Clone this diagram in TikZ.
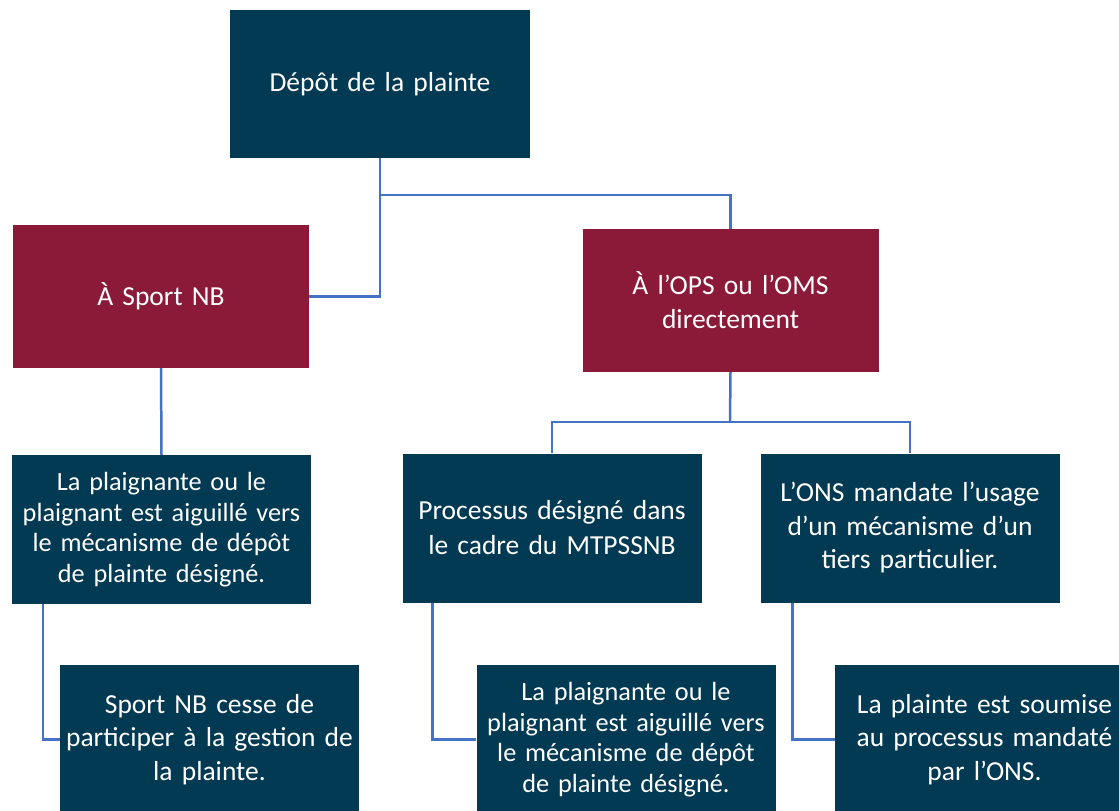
\documentclass[tikz,border=0pt]{standalone}
\usepackage{fontspec}
\setmainfont{Carlito}
\usetikzlibrary{calc}

\definecolor{navy}{HTML}{023A53}
\definecolor{wine}{HTML}{8B1A38}
\definecolor{linkblue}{HTML}{4472C4}

\begin{document}
\begin{tikzpicture}[x=1pt,y=-1pt,
  box/.style={fill=navy, text=white, minimum width=299pt, minimum height=149pt,
    text width=296pt, align=center, inner sep=0pt,
    font=\fontsize{27.5}{33.5}\selectfont},
  longbox/.style={box, font=\fontsize{26.3}{30.5}\selectfont},
  redbox/.style={box, fill=wine, minimum width=294pt, minimum height=143pt,
    font=\fontsize{27.5}{34}\selectfont},
  link/.style={draw=linkblue, line width=2.5pt}]

\useasboundingbox (0,0) rectangle (1119,811);

% top
\node[box, minimum width=300pt, minimum height=148pt] (depot) at (380,84) {Dépôt de la plainte};

% second row
\node[redbox] (sport) at (161,296.5) {À Sport NB};
\node[redbox] (ops) at (730.5,300.5) {À l’OPS ou l’OMS\\ directement};

% third row
\node[longbox] (aiguille) at (161.5,529.5) {La plaignante ou le\\ plaignant est aiguillé vers\\ le mécanisme de dépôt\\ de plainte désigné.};
\node[box, font=\fontsize{27.5}{35}\selectfont] (processus) at (552,528) {Processus désigné dans\\ le cadre du MTPSSNB};
\node[box] (ons) at (910,528) {L’ONS mandate l’usage\\ d’un mécanisme d’un\\ tiers particulier.};

% bottom row
\node[box] (cesse) at (209.5,739.5) {Sport NB cesse de\\ participer à la gestion de\\ la plainte.};
\node[longbox] (aiguilleb) at (626,739.5) {La plaignante ou le\\ plaignant est aiguillé vers\\ le mécanisme de dépôt\\ de plainte désigné.};
\node[box] (soumise) at (984.5,739.5) {La plainte est soumise\\ au processus mandaté\\ par l’ONS.};

\coordinate (split) at (380,195);
\coordinate (fork) at (730,422);

\draw[link] (depot.south) -- (split) -| (ops.north);
\draw[link] (split) |- (sport.east);
\draw[link] (sport.south) -- (aiguille.north);
\draw[link] (ops.south) -- (fork);
\draw[link] (processus.north) |- (fork) -| (ons.north);
\draw[link] ($(aiguille.south west)+(31,0)$) |- (cesse.west);
\draw[link] ($(processus.south west)+(30,0)$) |- (aiguilleb.west);
\draw[link] ($(ons.south west)+(32,0)$) |- (soumise.west);

\end{tikzpicture}
\end{document}
